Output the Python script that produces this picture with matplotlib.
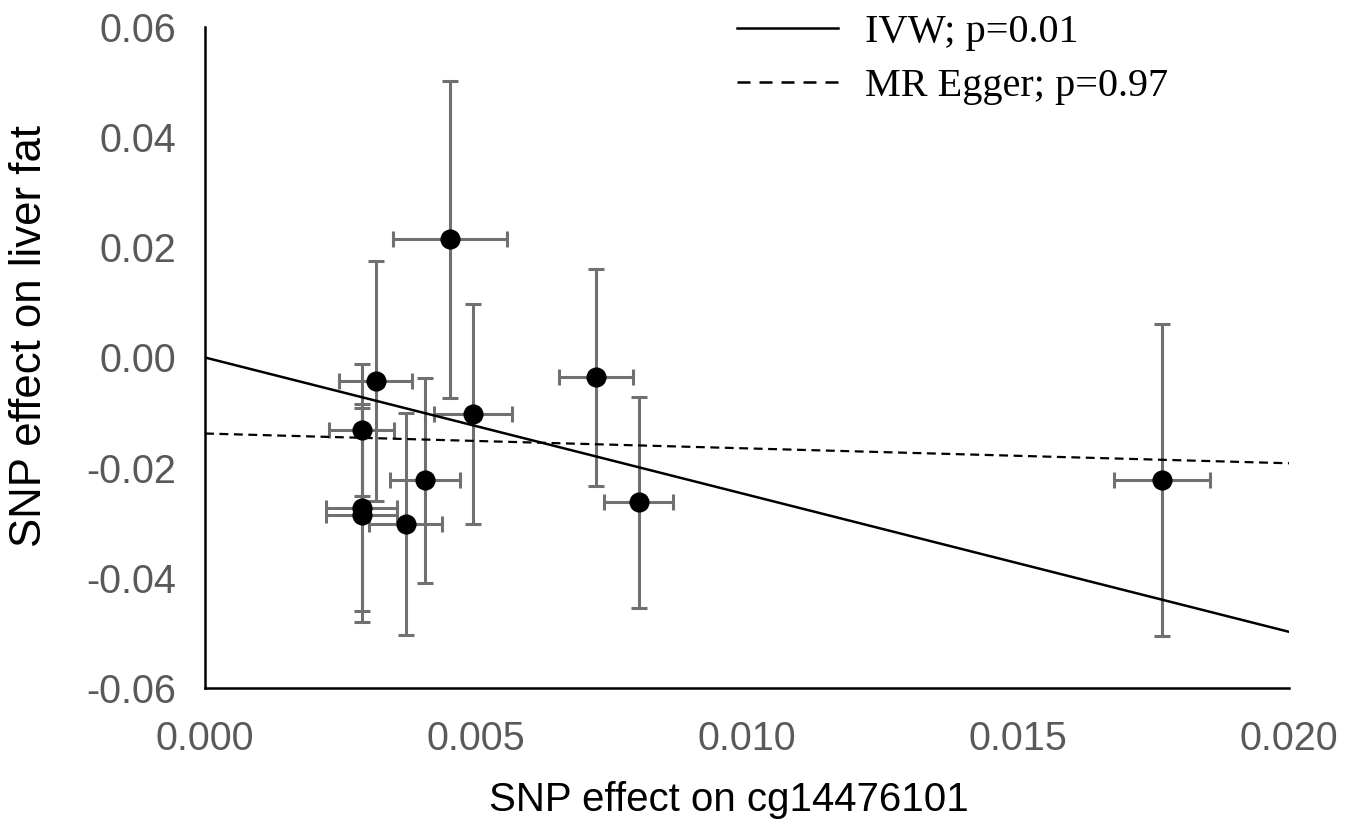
import numpy as np
import matplotlib
matplotlib.use("Agg")
import matplotlib.pyplot as plt
from matplotlib.lines import Line2D

# Per-SNP effects on the exposure (cg14476101) and on the outcome (liver fat)
beta_exposure = [0.00452, 0.00315, 0.00495, 0.00289, 0.00289, 0.00289,
                 0.00370, 0.00406, 0.00721, 0.00800, 0.01766]
beta_outcome = [0.02145, -0.0042, -0.0102, -0.0132, -0.0273, -0.0286,
                -0.0302, -0.0223, -0.0036, -0.0263, -0.0222]
# Half-widths of the error bars
err_exposure = [0.00105, 0.00067, 0.00072, 0.00060, 0.00065, 0.00065,
                0.00067, 0.00065, 0.00068, 0.00063, 0.00088]
err_outcome = [0.0288, 0.0218, 0.0200, 0.0120, 0.0188, 0.0194,
               0.0202, 0.0186, 0.0197, 0.0192, 0.0283]

# Fitted MR estimates
ivw_slope = -2.49
egger_intercept = -0.0138
egger_slope = -0.27
ivw_label = "IVW; p=0.01"
egger_label = "MR Egger; p=0.97"

x_ticks = [0.000, 0.005, 0.010, 0.015, 0.020]
x_tick_labels = ["0.000", "0.005", "0.010", "0.015", "0.020"]
y_ticks = [-0.06, -0.04, -0.02, 0.00, 0.02, 0.04, 0.06]
y_tick_labels = ["-0.06", "-0.04", "-0.02", "0.00", "0.02", "0.04", "0.06"]

x_title = "SNP effect on cg14476101"
y_title = "SNP effect on liver fat"

sans = ["Liberation Sans", "DejaVu Sans"]
serif = ["Liberation Serif", "DejaVu Serif"]

fig = plt.figure(figsize=(13.54, 8.24), dpi=100)
ax = fig.add_axes([205 / 1354, 1 - 688 / 824, (1289 - 205) / 1354, (688 - 27) / 824])

ax.errorbar(beta_exposure, beta_outcome, xerr=err_exposure, yerr=err_outcome,
            fmt="none", ecolor="#707070", elinewidth=2.2, capsize=6,
            capthick=2.2, zorder=2)

xs = np.array([x_ticks[0], x_ticks[-1]])
ax.plot(xs, ivw_slope * xs, color="black", lw=1.8, zorder=3)
ax.plot(xs, egger_intercept + egger_slope * xs, color="black", lw=1.6,
        dashes=(4, 2.5), zorder=3)

ax.plot(beta_exposure, beta_outcome, "o", color="black", markersize=13.5,
        zorder=4)

ax.set_xlim(x_ticks[0], x_ticks[-1])
ax.set_ylim(y_ticks[0], y_ticks[-1])
ax.set_xticks(x_ticks)
ax.set_xticklabels(x_tick_labels)
ax.set_yticks(y_ticks)
ax.set_yticklabels(y_tick_labels)
ax.tick_params(length=0, labelsize=28.5, labelcolor="#595959")
ax.tick_params(axis="y", pad=21)
ax.tick_params(axis="x", pad=23)
for lab in ax.get_xticklabels() + ax.get_yticklabels():
    lab.set_family(sans)

for side in ("top", "right"):
    ax.spines[side].set_visible(False)
for side in ("left", "bottom"):
    ax.spines[side].set_linewidth(1.8)
    ax.spines[side].set_color("black")

ax.set_xlabel(x_title, fontsize=29, family=sans, va="center")
ax.xaxis.set_label_coords((729 - 205) / 1084, (688 - 800) / 661)
ax.set_ylabel(y_title, fontsize=31.5, family=sans, va="center")
ax.yaxis.set_label_coords((30 - 205) / 1084, (688 - 336) / 661)

handles = [Line2D([], [], color="black", lw=1.8),
           Line2D([], [], color="black", lw=1.8, dashes=(5.2, 3.6))]
leg = ax.legend(handles, [ivw_label, egger_label], loc="upper left",
                bbox_to_anchor=(737 / 1354, 1 - 14 / 824),
                bbox_transform=fig.transFigure, frameon=False,
                prop={"family": serif, "size": 29}, handlelength=2.5,
                handletextpad=0.67, labelspacing=0.42, borderpad=0,
                borderaxespad=0)

fig.savefig("out.png", dpi=100)
